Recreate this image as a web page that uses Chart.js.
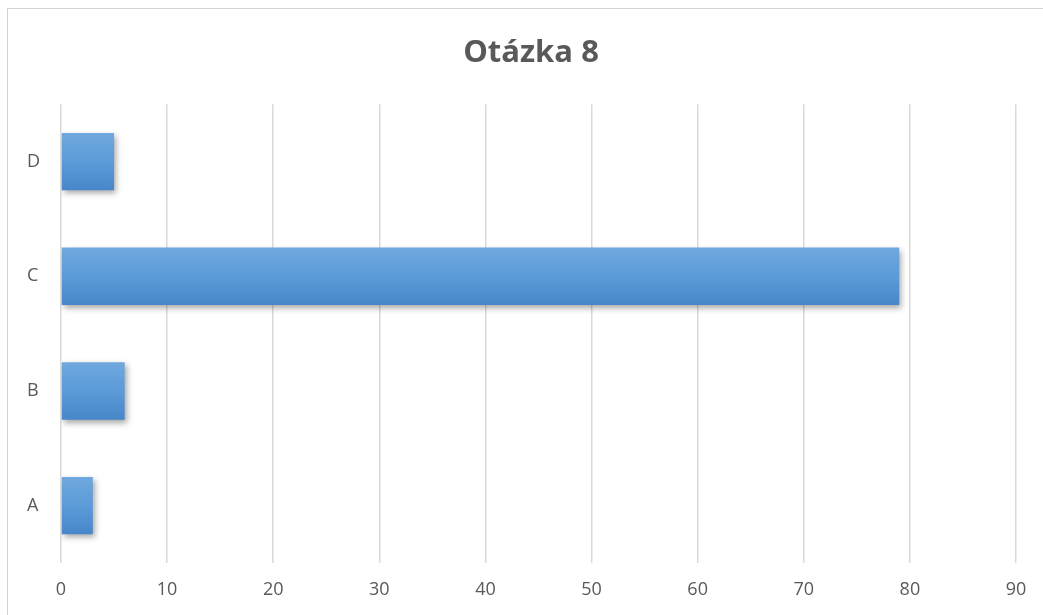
<!DOCTYPE html>
<html>
<head>
<meta charset="utf-8">
<script src="https://cdn.jsdelivr.net/npm/chart.js@4"></script>
<style>
  html, body { margin: 0; padding: 0; background: #fff; }
  #wrap { position: relative; width: 1043px; height: 615px; overflow: hidden; }
  #frame {
    position: absolute; left: 7px; top: 8px; width: 1100px; height: 700px;
    border: 1.5px solid #d4d4d4; pointer-events: none;
  }
  canvas { position: absolute; left: 0; top: 0; }
</style>
</head>
<body>
<div id="wrap">
  <canvas id="chart" width="1043" height="615"></canvas>
  <div id="frame"></div>
</div>
<script>
const categories = ["A", "B", "C", "D"];
const answers = [3, 6, 79, 5];
const xTicks = [0, 10, 20, 30, 40, 50, 60, 70, 80, 90];
const chartTitle = "Otázka 8";

// soft drop shadow under the bars, like the office chart
const barShadow = {
  id: "barShadow",
  beforeDatasetDraw(chart) {
    const ctx = chart.ctx;
    ctx.save();
    ctx.shadowColor = "rgba(0,0,0,0.35)";
    ctx.shadowBlur = 6;
    ctx.shadowOffsetX = 2;
    ctx.shadowOffsetY = 3;
  },
  afterDatasetDraw(chart) {
    chart.ctx.restore();
  },
};

function barFill(context) {
  const chart = context.chart;
  const yScale = chart.scales.y;
  if (!yScale || !chart.chartArea) return "#5b9bd5";
  const center = yScale.getPixelForValue(context.dataIndex);
  const half = (yScale.height / categories.length) * 0.25;
  const g = chart.ctx.createLinearGradient(0, center - half, 0, center + half);
  g.addColorStop(0, "#6fa8de");
  g.addColorStop(0.5, "#5b9bd8");
  g.addColorStop(1, "#4787c9");
  return g;
}

new Chart(document.getElementById("chart"), {
  type: "bar",
  data: {
    labels: categories,
    datasets: [{
      data: answers,
      backgroundColor: barFill,
      borderWidth: 0,
      categoryPercentage: 1,
      barPercentage: 0.5,
    }],
  },
  options: {
    indexAxis: "y",
    responsive: false,
    animation: false,
    // left padding keeps the title centred where the original has it
    layout: { padding: { left: 46, right: 27, top: 0, bottom: 0 } },
    plugins: {
      legend: { display: false },
      tooltip: { enabled: false },
      title: {
        display: true,
        text: chartTitle,
        color: "#595959",
        font: { family: "Open Sans", size: 31, weight: "bold" },
        padding: { top: 35, bottom: 32 },
      },
    },
    scales: {
      x: {
        min: 0,
        max: 90,
        afterBuildTicks(scale) {
          scale.ticks = xTicks.map(v => ({ value: v }));
        },
        afterFit(scale) { scale.height = 52; },
        grid: { color: "#d9d9d9", lineWidth: 1.5, drawTicks: false },
        border: { display: false },
        ticks: {
          color: "#595959",
          font: { family: "Open Sans", size: 18 },
          padding: 16,
        },
      },
      y: {
        reverse: true,
        afterFit(scale) { scale.width = 15; },
        grid: { display: false, drawTicks: false },
        border: { display: false },
        // mirrored labels are not clipped to the narrow axis box
        ticks: {
          mirror: true,
          color: "#595959",
          font: { family: "Open Sans", size: 18 },
          padding: -34,
        },
      },
    },
  },
  plugins: [barShadow],
});
</script>
</body>
</html>
